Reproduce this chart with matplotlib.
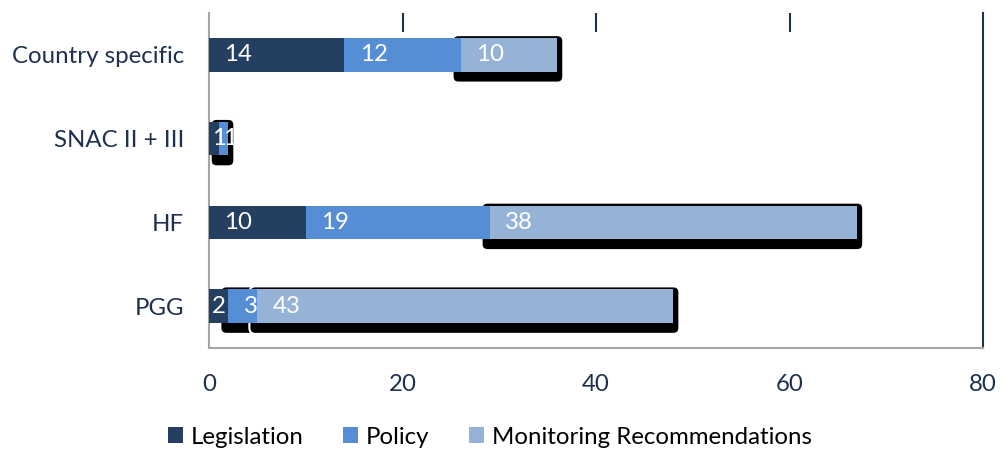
import matplotlib
matplotlib.use('Agg')
import matplotlib.pyplot as plt
from matplotlib.patches import FancyBboxPatch

# Data (top to bottom as in the chart)
categories = ['Country specific', 'SNAC II + III', 'HF', 'PGG']
legislation = [14, 1, 10, 2]
policy = [12, 1, 19, 3]
monitoring = [10, 0, 38, 43]
series_names = ['Legislation', 'Policy', 'Monitoring Recommendations']
ticks = [0, 20, 40, 60, 80]

# which segments carry the drop shadow (per category, series index)
shadowed = [[2], [1], [2], [1, 2]]

colors = ['#253F60', '#558ED5', '#95B3D7']
navy = '#1F3050'
plt.rcParams['font.family'] = ['Lato', 'DejaVu Sans']
fs = 17.3

fig = plt.figure(figsize=(10.05, 4.55), dpi=100)
ax = fig.add_axes([209/1005, 1 - 348/455, 774/1005, 335/455])

ypos = list(range(len(categories)))
h = 0.4
series = [legislation, policy, monitoring]
lefts = [0] * len(categories)
starts = []
bars = []
for i, vals in enumerate(series):
    b = ax.barh(ypos, vals, left=lefts, height=h, color=colors[i], zorder=3,
                label=series_names[i])
    bars.append(b)
    starts.append(list(lefts))
    lefts = [l + v for l, v in zip(lefts, vals)]

ax.set_xlim(0, 80)
ax.set_ylim(3.5, -0.5)

# pixel -> data units
ux = 80 / 774
uy = 4 / 335

# shadows
for c in range(len(categories)):
    for s in shadowed[c]:
        x0 = starts[s][c] - 8 * ux
        x1 = starts[s][c] + series[s][c] + 6 * ux
        y0 = ypos[c] - h / 2 - 3 * uy
        y1 = ypos[c] + h / 2 + 11 * uy
        p = FancyBboxPatch((x0, y0), x1 - x0, y1 - y0,
                           boxstyle='round,pad=0,rounding_size=%f' % (6 * ux),
                           mutation_aspect=uy / ux, facecolor='black',
                           edgecolor='white', linewidth=1.5, zorder=2)
        ax.add_patch(p)

# value labels
for s, vals in enumerate(series):
    for c, v in enumerate(vals):
        if v == 0:
            continue
        x = starts[s][c]
        if v >= 2.5:
            ax.text(x + 1.6, ypos[c], str(v), color='white', fontsize=fs,
                    ha='left', va='center', zorder=4)
        else:
            ax.text(x + v / 2 + (2 - v) * (0.5 + 0.15 * s), ypos[c], str(v),
                    color='white', fontsize=fs, ha='center', va='center', zorder=4)

ax.set_yticks(ypos)
ax.set_yticklabels(categories, fontsize=fs, color=navy)
ax.tick_params(axis='y', length=0, pad=18)

ax.set_xticks(ticks)
ax.set_xticklabels([str(t) for t in ticks], fontsize=fs, color=navy)
ax.tick_params(axis='x', which='major', length=0, pad=19)
ax.set_xticks(ticks[1:-1], minor=True)
ax.tick_params(axis='x', which='minor', direction='in', length=9.5, width=1.5,
               color=navy)

sec = ax.secondary_xaxis('top')
sec.set_xticks(ticks[1:-1])
sec.tick_params(direction='in', length=14, width=1.5, color=navy, labeltop=False)
sec.spines['top'].set_visible(False)

ax.spines['top'].set_visible(False)
ax.spines['left'].set_color('#A6A6A6')
ax.spines['bottom'].set_color('#A6A6A6')
ax.spines['left'].set_linewidth(1.5)
ax.spines['bottom'].set_linewidth(1.5)
ax.spines['right'].set_color(navy)
ax.spines['right'].set_linewidth(1.5)

fig.legend(handles=bars, labels=series_names, loc='center', ncol=3,
           bbox_to_anchor=(490/1005, 1 - 437/455), frameon=False, fontsize=fs,
           handlelength=0.62, handleheight=0.62, handletextpad=0.33,
           columnspacing=1.65)

plt.savefig('out.png', dpi=100)
